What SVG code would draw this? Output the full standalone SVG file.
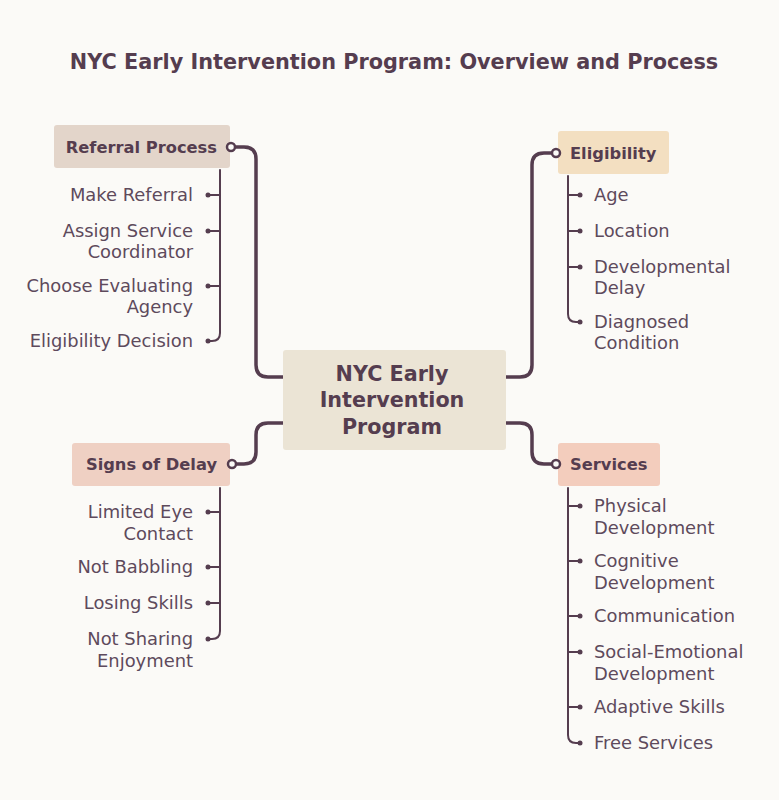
<svg xmlns="http://www.w3.org/2000/svg" width="779" height="800" viewBox="0 0 779 800">
<style>
.title{font-family:"DejaVu Sans","Open Sans",sans-serif;font-weight:bold;font-size:20.8px;fill:#553d4f}
.hub{font-family:"DejaVu Sans","Open Sans",sans-serif;font-weight:bold;font-size:20.7px;fill:#553d4f}
.cat{font-family:"DejaVu Sans","Open Sans",sans-serif;font-weight:bold;font-size:16.3px;fill:#553d4f}
.leaf{font-family:"DejaVu Sans","Open Sans",sans-serif;font-size:17.9px;fill:#5e4a5c}
.main{fill:none;stroke:#553d4f;stroke-width:3.5;stroke-linecap:round}
.sub{fill:none;stroke:#553d4f;stroke-width:2;stroke-linecap:round}
.dot{fill:#553d4f}
.ring{fill:#fbfaf7;stroke:#553d4f;stroke-width:2.5}
</style>
<rect width="779" height="800" fill="#fbfaf7"/>
<text class="title" x="394" y="69" text-anchor="middle">NYC Early Intervention Program: Overview and Process</text>

<g id="connectors">
  <path class="main" d="M234,147 H244 Q256,147 256,159 V365 Q256,377 268,377 H283"/>
  <path class="main" d="M552,153 H544 Q532,153 532,165 V365 Q532,377 520,377 H506"/>
  <path class="main" d="M236,464 H244 Q256,464 256,452 V435 Q256,423 268,423 H283"/>
  <path class="main" d="M506,423 H520 Q532,423 532,435 V452 Q532,464 544,464 H552"/>
  <path class="sub" d="M220,170 V333 Q220,341 212,341 H208"/>
  <path class="sub" d="M220,195 H208 M220,231 H208 M220,286 H208"/>
  <path class="sub" d="M568,176 V314 Q568,322 576,322 H580"/>
  <path class="sub" d="M568,195 H580 M568,231 H580 M568,267 H580"/>
  <path class="sub" d="M220,488 V631 Q220,639 212,639 H208"/>
  <path class="sub" d="M220,512 H208 M220,567 H208 M220,603 H208"/>
  <path class="sub" d="M568,488 V735 Q568,743 576,743 H580"/>
  <path class="sub" d="M568,506 H580 M568,561 H580 M568,616 H580 M568,652 H580 M568,707 H580"/>
  <g class="dot">
    <circle cx="208" cy="195" r="2.5"/><circle cx="208" cy="231" r="2.5"/><circle cx="208" cy="286" r="2.5"/><circle cx="208" cy="341" r="2.5"/>
    <circle cx="580" cy="195" r="2.5"/><circle cx="580" cy="231" r="2.5"/><circle cx="580" cy="267" r="2.5"/><circle cx="580" cy="322" r="2.5"/>
    <circle cx="208" cy="512" r="2.5"/><circle cx="208" cy="567" r="2.5"/><circle cx="208" cy="603" r="2.5"/><circle cx="208" cy="639" r="2.5"/>
    <circle cx="580" cy="506" r="2.5"/><circle cx="580" cy="561" r="2.5"/><circle cx="580" cy="616" r="2.5"/><circle cx="580" cy="652" r="2.5"/><circle cx="580" cy="707" r="2.5"/><circle cx="580" cy="743" r="2.5"/>
  </g>
</g>

<g id="hub">
  <rect x="283" y="350" width="223" height="100" rx="3" fill="#ebe4d5"/>
  <text class="hub" x="392" y="381" text-anchor="middle">NYC Early</text>
  <text class="hub" x="392" y="407" text-anchor="middle">Intervention</text>
  <text class="hub" x="392" y="434" text-anchor="middle">Program</text>
</g>

<g id="referral">
  <rect x="54" y="125" width="176" height="43" rx="3" fill="#e3d5ca"/>
  <text class="cat" x="217" y="153" text-anchor="end">Referral Process</text>
  <circle class="ring" cx="231" cy="147" r="4"/>
  <g class="leaf" text-anchor="end">
    <text x="193" y="201">Make Referral</text>
    <text x="193" y="237">Assign Service</text>
    <text x="193" y="258">Coordinator</text>
    <text x="193" y="292">Choose Evaluating</text>
    <text x="193" y="313">Agency</text>
    <text x="193" y="347">Eligibility Decision</text>
  </g>
</g>

<g id="eligibility">
  <rect x="558" y="131" width="111" height="43" rx="3" fill="#f3dfc1"/>
  <text class="cat" x="570" y="159">Eligibility</text>
  <circle class="ring" cx="556" cy="153" r="4"/>
  <g class="leaf">
    <text x="594" y="201">Age</text>
    <text x="594" y="237">Location</text>
    <text x="594" y="273">Developmental</text>
    <text x="594" y="294">Delay</text>
    <text x="594" y="328">Diagnosed</text>
    <text x="594" y="349">Condition</text>
  </g>
</g>

<g id="signs">
  <rect x="72" y="443" width="158" height="43" rx="3" fill="#efd0c3"/>
  <text class="cat" x="217" y="470" text-anchor="end">Signs of Delay</text>
  <circle class="ring" cx="232" cy="464" r="4"/>
  <g class="leaf" text-anchor="end">
    <text x="193" y="518">Limited Eye</text>
    <text x="193" y="540">Contact</text>
    <text x="193" y="573">Not Babbling</text>
    <text x="193" y="609">Losing Skills</text>
    <text x="193" y="645">Not Sharing</text>
    <text x="193" y="667">Enjoyment</text>
  </g>
</g>

<g id="services">
  <rect x="558" y="443" width="102" height="43" rx="3" fill="#f3cdbd"/>
  <text class="cat" x="570" y="470">Services</text>
  <circle class="ring" cx="556" cy="464" r="4"/>
  <g class="leaf">
    <text x="594" y="512">Physical</text>
    <text x="594" y="534">Development</text>
    <text x="594" y="567">Cognitive</text>
    <text x="594" y="589">Development</text>
    <text x="594" y="622">Communication</text>
    <text x="594" y="658">Social-Emotional</text>
    <text x="594" y="680">Development</text>
    <text x="594" y="713">Adaptive Skills</text>
    <text x="594" y="749">Free Services</text>
  </g>
</g>
</svg>
